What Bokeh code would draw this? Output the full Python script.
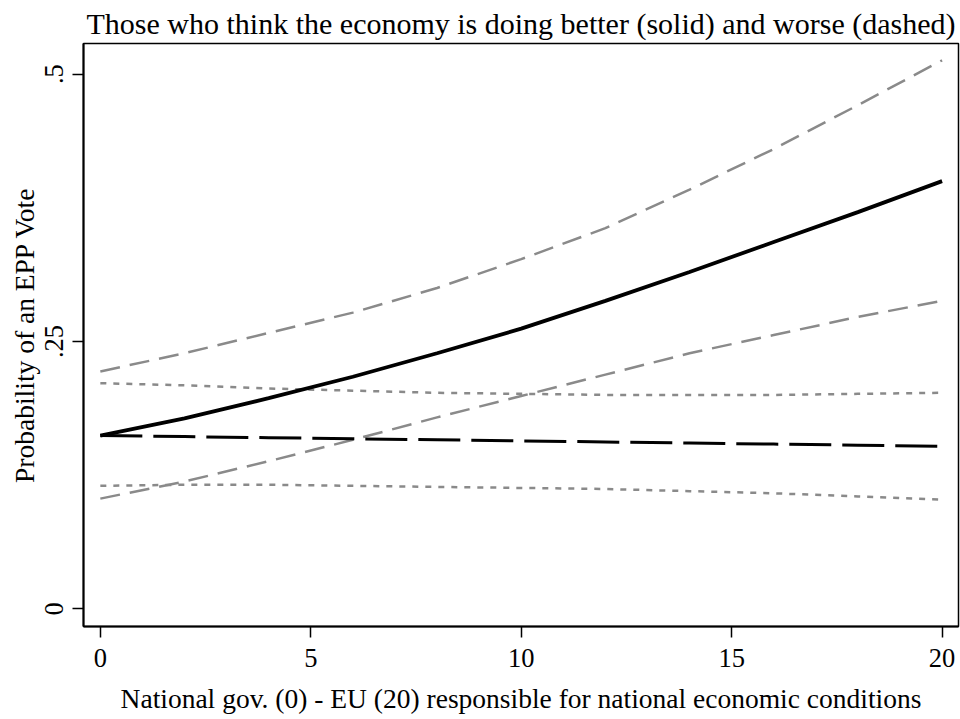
from bokeh.plotting import figure
from bokeh.models import Range1d, FixedTicker
from bokeh.embed import file_html
from bokeh.resources import INLINE

# Responsibility scale: national government (0) to EU (20)
resp = [0, 2, 4, 6, 8, 10, 12, 14, 16, 18, 20]

# Economy doing better: predicted probability and 95% bounds
better_prob = [0.162, 0.178, 0.197, 0.217, 0.239, 0.262, 0.288, 0.315, 0.343, 0.371, 0.400]
better_hi = [0.222, 0.239, 0.258, 0.277, 0.300, 0.327, 0.356, 0.392, 0.430, 0.471, 0.513]
better_lo = [0.103, 0.119, 0.138, 0.158, 0.179, 0.199, 0.219, 0.239, 0.256, 0.273, 0.288]

# Economy doing worse: predicted probability and 95% bounds
worse_prob = [0.162, 0.161, 0.160, 0.159, 0.158, 0.157, 0.156, 0.155, 0.154, 0.153, 0.152]
worse_hi = [0.211, 0.209, 0.206, 0.204, 0.202, 0.201, 0.200, 0.200, 0.200, 0.201, 0.202]
worse_lo = [0.115, 0.116, 0.116, 0.115, 0.114, 0.113, 0.112, 0.110, 0.108, 0.105, 0.102]

x_ticks = [0, 5, 10, 15, 20]
y_ticks = [0, 0.25, 0.5]
y_tick_labels = ["0", ".25", ".5"]

SERIF = "Liberation Serif"
GRAY = "#8a8a8a"

p = figure(
    width=960, height=719,
    x_range=Range1d(-0.40, 20.39),
    y_range=Range1d(-0.0166, 0.5287),
    output_backend="svg", toolbar_location=None,
    min_border_left=83, min_border_right=2,
    min_border_top=43, min_border_bottom=93,
    title="Those who think the economy is doing better (solid) and worse (dashed)",
)
p.background_fill_color = "white"
p.border_fill_color = "white"
p.outline_line_color = "black"
p.outline_line_width = 1.5
p.grid.visible = False

p.title.text_font = SERIF
p.title.text_font_size = "30px"
p.title.text_font_style = "normal"
p.title.align = "center"
p.title.text_color = "black"
p.title.standoff = 7

# confidence bounds
p.line(resp, better_hi, line_color=GRAY, line_width=2.5, line_dash="20 10")
p.line(resp, better_lo, line_color=GRAY, line_width=2.5, line_dash="20 10")
p.line(resp, worse_hi, line_color=GRAY, line_width=2.5, line_dash="6 7")
p.line(resp, worse_lo, line_color=GRAY, line_width=2.5, line_dash="6 7")

# predicted probabilities
p.line(resp, worse_prob, line_color="black", line_width=3, line_dash="42 11")
p.line(resp, better_prob, line_color="black", line_width=3.8)

xa = p.xaxis[0]
xa.ticker = FixedTicker(ticks=x_ticks)
xa.axis_label = "National gov. (0) - EU (20) responsible for national economic conditions"

ya = p.yaxis[0]
ya.ticker = FixedTicker(ticks=y_ticks)
ya.major_label_overrides = {t: s for t, s in zip(y_ticks, y_tick_labels)}
ya.major_label_orientation = "vertical"
ya.axis_label = "Probability of an EPP Vote"

for ax in (xa, ya):
    ax.axis_line_color = "black"
    ax.axis_line_width = 2
    ax.major_tick_line_color = "black"
    ax.major_tick_line_width = 1.5
    ax.major_tick_in = 0
    ax.major_tick_out = 11
    ax.minor_tick_line_color = None
    ax.major_label_text_font = SERIF
    ax.major_label_text_font_size = "26.5px"
    ax.major_label_text_color = "black"
    ax.axis_label_text_font = SERIF
    ax.axis_label_text_font_size = "27.5px"
    ax.axis_label_text_font_style = "normal"
    ax.axis_label_text_color = "black"

xa.major_label_standoff = 11
xa.axis_label_standoff = 13
ya.major_label_standoff = 9
ya.axis_label_standoff = 3

open("out.html", "w").write(file_html(p, INLINE))
